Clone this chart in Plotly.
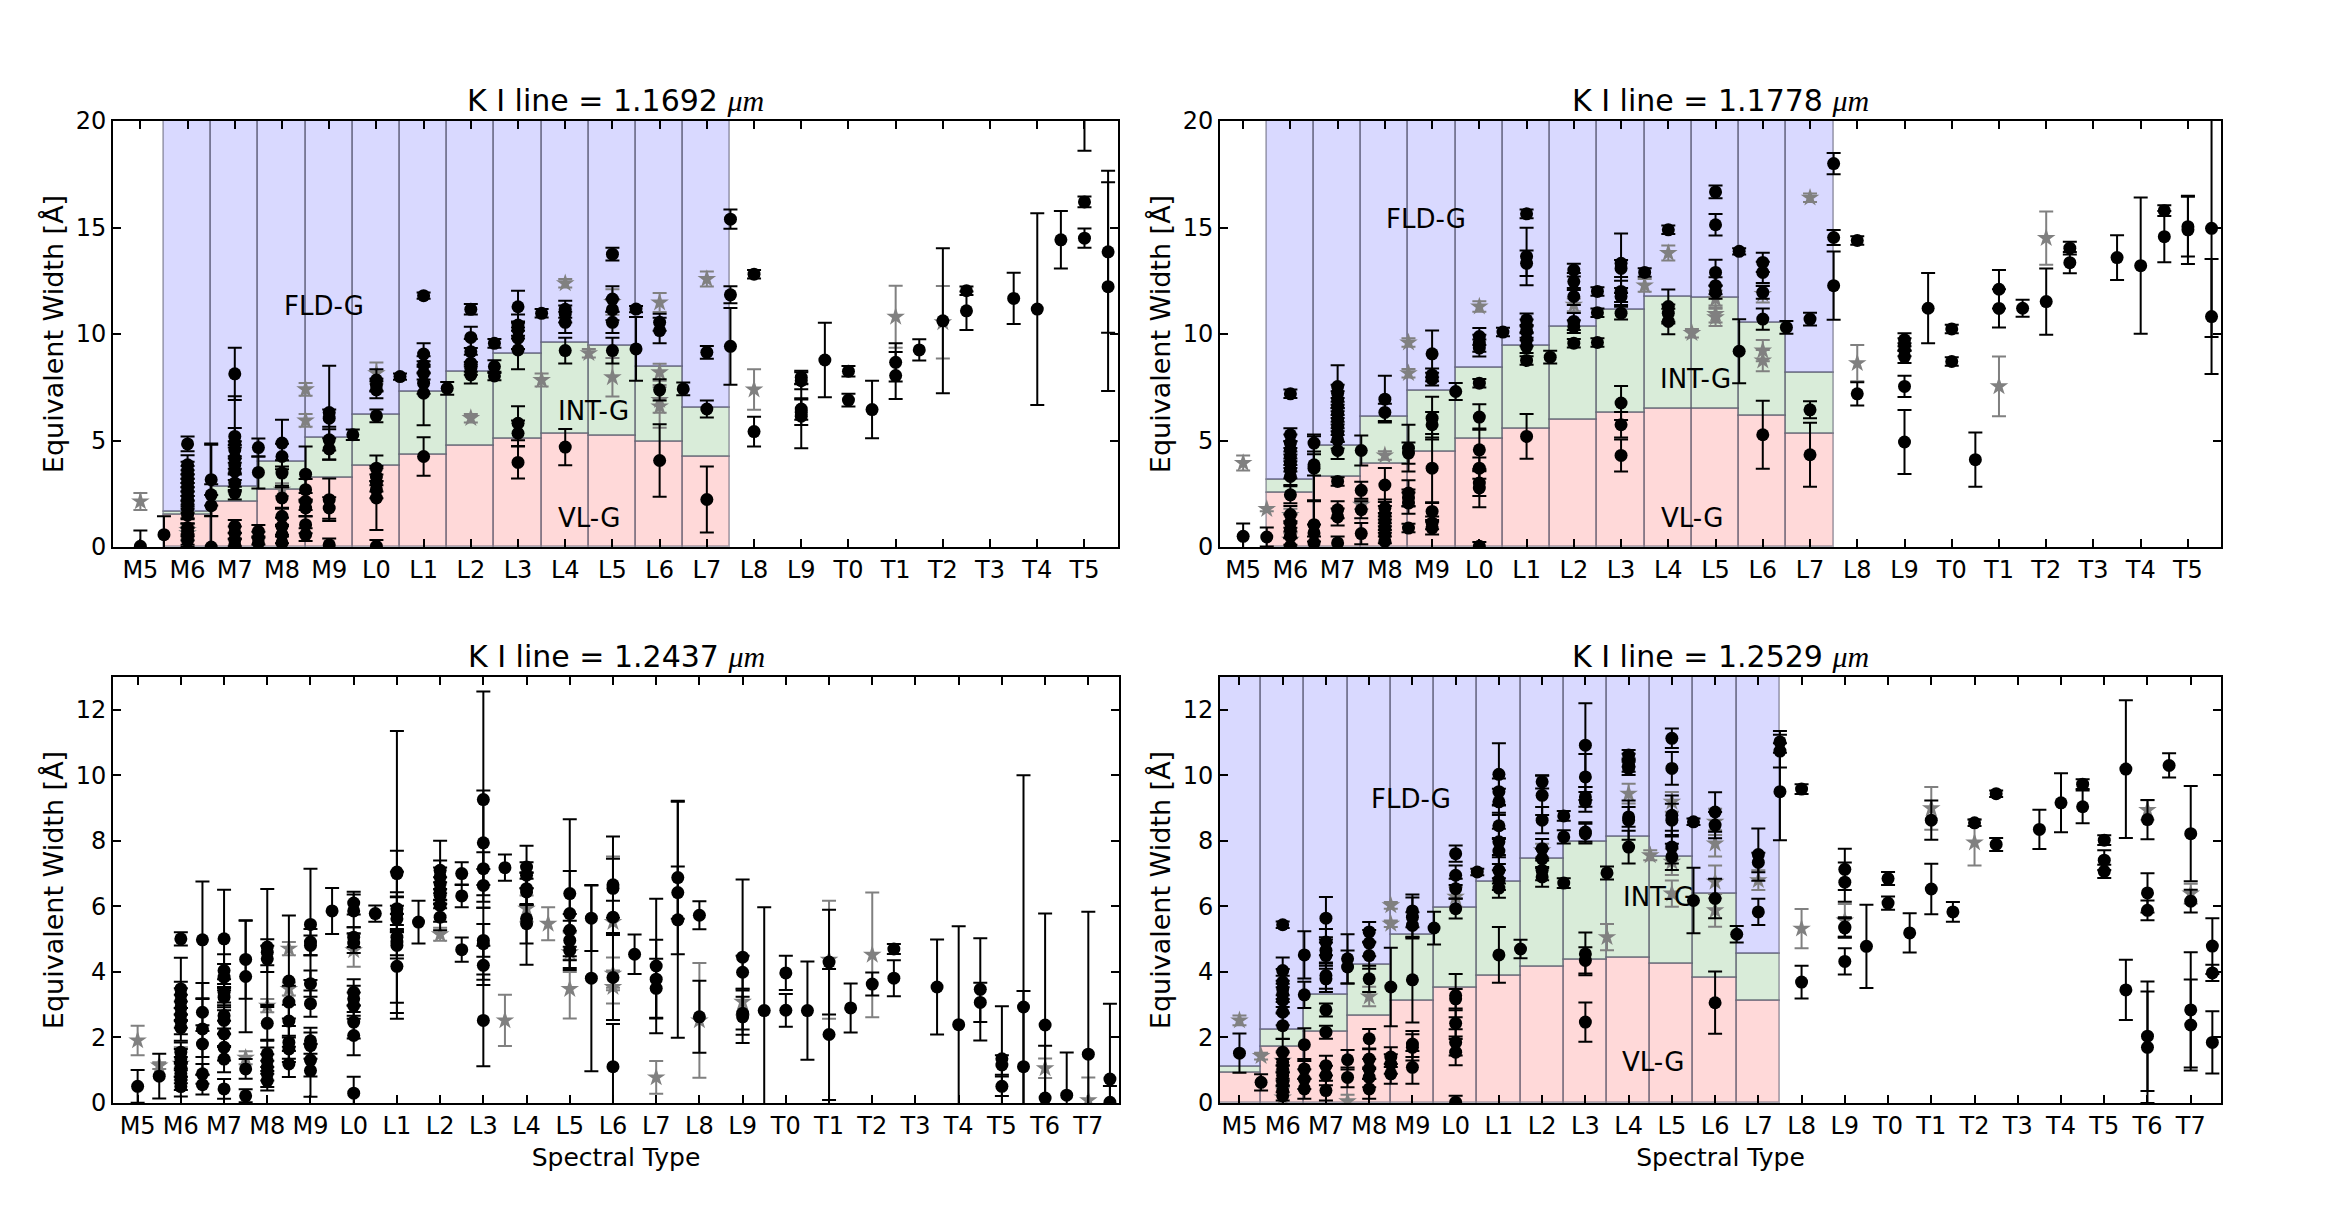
import plotly.graph_objects as go

# ---------------- tick labels ----------------
types_top = ['M5','M6','M7','M8','M9','L0','L1','L2','L3','L4','L5','L6','L7','L8','L9','T0','T1','T2','T3','T4','T5']
types_bot = types_top + ['T6','T7']

titles = ['K I line = 1.1692 ', 'K I line = 1.1778 ', 'K I line = 1.2437 ', 'K I line = 1.2529 ']

# ---------------- gravity-class boundaries (per spectral bin) ----------------
p1_bins = [1,2,3,4,5,6,7,8,9,10,11,12]
p1_vlg  = [1.48,2.10,2.66,3.23,3.80,4.30,4.73,5.08,5.30,5.23,4.92,4.22]
p1_intg = [1.64,2.80,3.98,5.10,6.20,7.27,8.23,9.06,9.60,9.45,8.44,6.52]

p2_bins = [1,2,3,4,5,6,7,8,9,10,11,12]
p2_vlg  = [2.53,3.28,3.90,4.48,5.08,5.55,5.94,6.30,6.48,6.48,6.14,5.31]
p2_intg = [3.13,4.72,6.10,7.31,8.39,9.42,10.34,11.13,11.72,11.67,10.50,8.17]

p4_bins = [0,1,2,3,4,5,6,7,8,9,10,11,12]
p4_vlg  = [0.92,1.71,2.18,2.66,3.10,3.51,3.87,4.16,4.36,4.41,4.25,3.81,3.10]
p4_intg = [1.11,2.23,3.29,4.22,5.12,5.96,6.75,7.45,7.98,8.11,7.52,6.37,4.54]

# ---------------- measurements: (spectral type index, EW, error) ----------------
p1_black = [
 (0,0.03,0.75),(0.5,0.58,0.86),
 (1,4.84,0.35),(1,3.86,0.45),(1,3.6,0.4),(1,3.4,0.4),(1,3.2,0.4),(1,3.0,0.4),(1,2.8,0.4),(1,2.6,0.4),(1,2.4,0.4),
 (1,2.2,0.4),(1,2.0,0.4),(1,1.75,0.4),(1,1.5,0.4),(1,0.9,0.4),(1,0.7,0.4),(1,0.5,0.4),(1,0.3,0.3),
 (1.5,3.16,1.7),(1.5,2.45,0.5),(1.5,1.94,0.5),(1.5,0.0,4.8),
 (2,8.13,1.23),(2,5.19,0.4),(2,4.88,2.2),(2,4.56,0.4),(2,4.17,0.5),(2,3.86,0.4),(2,3.55,0.4),(2,3.0,0.4),(2,2.53,0.3),
 (2,0.97,0.3),(2,0.66,0.3),(2,0.34,0.3),(2,0.1,0.3),
 (2.5,4.67,0.42),(2.5,3.5,0.75),(2.5,0.73,0.3),(2.5,0.42,0.3),(2.5,0.19,0.3),
 (3,4.88,1.1),(3,4.25,0.6),(3,3.47,0.6),(3,2.3,0.5),(3,1.44,0.4),(3,0.97,0.4),(3,0.58,0.4),(3,0.19,0.3),
 (3.5,3.42,1.3),(3.5,2.69,0.5),(3.5,2.14,0.4),(3.5,1.83,0.4),(3.5,1.05,0.4),(3.5,0.58,0.3),
 (4,6.31,2.2),(4,6.05,0.4),(4,5.03,0.5),(4,4.6,0.5),(4,2.22,1.0),(4,1.83,0.5),(4,0.1,0.3),
 (4.5,5.27,0.25),
 (5,7.84,0.5),(5,7.6,0.3),(5,7.38,0.4),(5,6.16,0.3),(5,3.7,0.6),(5,3.3,0.4),(5,3.0,0.4),(5,2.69,0.4),(5,2.3,1.5),(5,0.03,0.3),
 (5.5,8.0,0.15),
 (6,11.8,0.15),(6,9.06,0.5),(6,8.55,0.4),(6,8.16,0.3),(6,7.69,0.5),(6,7.22,1.5),(6,4.25,0.9),
 (6.5,7.45,0.3),
 (7,11.16,0.25),(7,9.84,0.5),(7,9.17,0.6),(7,8.63,0.4),(7,8.39,0.3),(7,8.08,0.4),
 (7.5,9.56,0.2),(7.5,8.47,0.3),(7.5,8.03,0.2),
 (8,11.28,0.75),(8,10.42,0.5),(8,10.19,0.4),(8,9.8,0.5),(8,9.25,0.9),(8,5.81,0.8),(8,5.34,0.6),(8,3.97,0.75),
 (8.5,10.97,0.2),
 (9,11.16,0.4),(9,10.94,0.4),(9,10.55,0.5),(9,9.22,0.6),(9,4.69,0.85),
 (10,13.75,0.3),(10,11.64,0.6),(10,11.14,0.5),(10,10.55,0.5),(10,9.22,0.6),
 (10.5,11.17,0.15),(10.5,9.3,1.5),
 (11,10.55,0.4),(11,10.16,0.6),(11,7.38,0.5),(11,4.06,1.7),
 (11.5,7.42,0.3),
 (12,9.14,0.3),(12,6.48,0.4),(12,2.23,1.55),
 (12.5,15.39,0.45),(12.5,11.84,0.4),(12.5,9.42,1.8),
 (13,12.81,0.2),(13,5.42,0.7),
 (14,7.97,0.3),(14,7.81,0.4),(14,6.48,0.5),(14,6.33,0.6),(14,6.14,1.5),
 (14.5,8.78,1.75),
 (15,8.25,0.25),(15,6.9,0.3),
 (15.5,6.45,1.35),
 (16,8.67,0.9),(16,8.05,1.1),
 (16.5,9.25,0.5),
 (17,10.62,3.4),
 (17.5,12.03,0.2),(17.5,11.09,0.9),
 (18.5,11.67,1.2),
 (19,11.17,4.5),
 (19.5,14.42,1.35),
 (20,16.2,0.25),(20,14.5,0.45),(20,21.0,2.4),
 (20.5,13.86,3.8),(20.5,12.22,4.9),
]
p1_grey = [
 (0,2.14,0.4),(1,0.8,0.3),(1,0.65,0.3),(3,2.69,0.3),(3.5,7.4,0.3),(3.5,5.94,0.3),(5,8.16,0.5),(7,6.05,0.2),
 (8.5,7.84,0.3),(9,12.38,0.2),(9.5,9.1,0.2),(10,7.97,0.9),(10,11.5,0.6),(11,11.48,0.45),(11,8.2,0.4),
 (11,6.9,0.6),(11,6.6,1.0),(12,12.58,0.35),(13,7.39,0.95),(16,10.81,1.45),(17,10.55,1.7),
]

p2_black = [
 (0,0.5,0.6),(0.5,0.47,0.45),
 (1,7.19,0.2),(1,5.27,0.3),(1,4.88,0.4),(1,4.56,0.4),(1,4.25,0.4),(1,3.94,0.4),(1,3.63,0.4),(1,3.31,0.4),(1,2.45,0.4),
 (1,1.52,0.4),(1,1.13,0.4),(1,0.81,0.4),(1,0.5,0.4),(1,0.03,0.4),
 (1.5,4.88,0.4),(1.5,3.86,0.5),(1.5,3.7,1.5),(1.5,1.05,1.1),(1.5,0.66,0.4),(1.5,0.19,0.3),
 (2,7.53,1.0),(2,7.22,0.4),(2,6.91,0.4),(2,6.6,0.4),(2,6.28,0.4),(2,5.97,0.4),(2,5.66,0.4),(2,5.35,0.4),(2,5.03,0.4),
 (2,4.53,0.4),(2,3.08,0.2),(2,1.75,0.4),(2,1.41,0.4),(2,0.19,0.3),
 (2.5,4.53,0.7),(2.5,2.66,0.4),(2.5,1.75,0.4),(2.5,0.63,0.5),
 (3,6.94,1.1),(3,6.32,0.4),(3,2.91,0.8),(3,1.83,0.4),(3,1.52,0.4),(3,1.2,0.4),(3,0.89,0.4),(3,0.58,0.4),(3,0.27,0.4),
 (3.5,4.64,1.1),(3.5,4.41,0.5),(3.5,2.53,0.6),(3.5,2.3,0.4),(3.5,2.06,0.5),(3.5,0.89,0.2),
 (4,9.07,1.1),(4,8.08,0.3),(4,7.88,0.3),(4,6.05,1.0),(4,5.74,0.6),(4,3.7,1.6),(4,1.67,0.4),(4,1.13,0.3),(4,0.89,0.3),
 (4.5,7.3,0.4),
 (5,9.88,0.4),(5,9.57,0.4),(5,9.34,0.4),(5,7.69,0.2),(5,6.1,0.6),(5,4.56,1.0),(5,3.7,0.5),(5,3.0,0.6),(5,2.77,0.9),(5,0.03,0.2),
 (5.5,10.09,0.2),
 (6,15.64,0.2),(6,13.64,1.35),(6,13.32,0.6),(6,10.66,0.3),(6,10.38,0.3),(6,10.12,0.3),(6,9.73,0.3),(6,9.41,0.3),(6,8.76,0.2),(6,5.19,1.05),
 (6.5,8.91,0.3),
 (7,13.0,0.3),(7,12.46,0.4),(7,11.76,0.4),(7,10.59,0.4),(7,10.35,0.3),(7,9.57,0.2),
 (7.5,12.0,0.2),(7.5,11.0,0.2),(7.5,9.6,0.2),
 (8,13.32,1.4),(8,13.08,0.4),(8,12.0,0.5),(8,11.76,0.4),(8,10.98,0.3),(8,6.76,0.8),(8,5.74,0.6),(8,4.3,0.75),
 (8.5,12.89,0.2),
 (9,14.89,0.2),(9,11.29,0.8),(9,10.98,0.4),(9,10.59,0.6),
 (10,16.67,0.3),(10,15.13,0.5),(10,12.89,0.6),(10,12.27,0.4),(10,11.95,0.3),
 (10.5,13.88,0.15),(10.5,9.19,1.5),
 (11,13.36,0.45),(11,12.89,0.5),(11,11.95,0.3),(11,10.7,0.5),(11,5.27,1.6),
 (11.5,10.31,0.3),
 (12,10.7,0.3),(12,6.44,0.4),(12,4.33,1.5),
 (12.5,18.0,0.5),(12.5,14.53,0.35),(12.5,12.27,1.6),
 (13,14.39,0.2),(13,7.19,0.55),
 (14,9.73,0.3),(14,9.5,0.3),(14,9.26,0.3),(14,8.94,0.3),(14,7.54,0.5),(14,4.93,1.5),
 (14.5,11.21,1.65),
 (15,10.24,0.2),(15,8.71,0.2),
 (15.5,4.1,1.27),
 (16,12.1,0.9),(16,11.2,0.9),
 (16.5,11.21,0.4),
 (17,11.52,1.55),
 (17.5,14.03,0.3),(17.5,13.35,0.5),
 (18.5,13.59,1.05),
 (19,13.21,3.2),
 (19.5,15.79,0.25),(19.5,14.57,1.2),
 (20,15.04,1.4),(20,14.89,1.6),
 (20.5,14.96,5.1),(20.5,10.82,2.7),
]
p2_grey = [
 (0,3.94,0.35),(0.5,1.78,0.1),(1,1.5,0.3),(1,0.34,0.3),(2.5,1.98,0.2),(3,4.3,0.2),(3.5,9.6,0.2),(3.5,8.16,0.2),
 (5,11.29,0.25),(7,11.37,0.3),(8.5,12.28,0.3),(9,13.8,0.35),(9.5,10.04,0.2),(10,11.64,0.4),(10,10.94,0.4),
 (10,10.78,0.4),(11,11.88,0.4),(11,9.22,0.5),(11,8.75,0.5),(12,16.4,0.2),(13,8.63,0.85),(16,7.54,1.4),(17,14.5,1.25),
]

p3_black = [
 (0,0.51,0.5),(0.5,0.82,0.68),
 (1,5.01,0.2),(1,3.48,0.95),(1,3.3,0.4),(1,3.1,0.4),(1,2.9,0.4),(1,2.7,0.4),(1,2.5,0.4),(1,2.3,0.4),
 (1,1.55,0.3),(1,1.35,0.3),(1,1.1,0.3),(1,0.9,0.3),(1,0.7,0.3),(1,0.5,0.3),
 (1.5,4.98,1.78),(1.5,2.77,0.4),(1.5,2.26,1.4),(1.5,1.8,0.4),(1.5,0.89,0.3),(1.5,0.56,0.3),
 (2,5.01,1.5),(2,4.04,0.5),(2,3.84,0.4),(2,3.38,0.4),(2,3.23,0.4),(2,2.67,0.4),(2,2.52,0.4),(2,2.11,0.4),(2,1.7,0.4),(2,1.34,0.4),(2,0.43,0.3),
 (2.5,4.38,1.2),(2.5,3.86,1.7),(2.5,1.04,0.3),(2.5,0.22,0.2),
 (3,4.76,1.77),(3,4.6,0.4),(3,4.4,0.4),(3,2.43,0.5),(3,1.5,0.4),(3,1.29,0.4),(3,1.09,0.4),(3,0.89,0.4),(3,0.68,0.3),
 (3.5,3.72,2.0),(3.5,3.08,0.5),(3.5,2.5,0.5),(3.5,1.85,0.5),(3.5,1.65,0.4),(3.5,1.19,0.4),
 (4,5.45,1.7),(4,4.91,0.4),(4,4.81,0.3),(4,3.64,0.4),(4,3.03,0.4),(4,1.9,0.4),(4,1.75,0.4),(4,1.31,0.5),(4,0.99,0.8),
 (4.5,5.86,0.7),
 (5,6.1,0.35),(5,5.86,0.5),(5,5.06,0.3),(5,4.88,0.3),(5,3.38,0.4),(5,3.18,0.4),(5,2.97,0.4),(5,2.47,0.5),(5,2.06,0.6),(5,0.3,0.5),
 (5.5,5.78,0.25),
 (6,7.05,4.3),(6,7.0,0.7),(6,5.93,0.5),(6,5.78,0.5),(6,5.62,0.4),(6,5.06,2.0),(6,4.91,0.4),(6,4.81,0.4),(6,4.17,1.6),
 (6.5,5.52,0.65),
 (7,7.1,0.9),(7,6.9,0.5),(7,6.69,0.5),(7,6.49,0.4),(7,6.34,0.4),(7,6.03,0.5),(7,5.67,0.4),
 (7.5,7.0,0.35),(7.5,6.32,0.35),(7.5,4.68,0.37),
 (8,9.26,3.3),(8,7.94,1.6),(8,7.15,0.5),(8,6.64,0.5),(8,4.96,0.5),(8,4.86,1.1),(8,4.2,0.6),(8,2.52,1.4),
 (8.5,7.18,0.4),
 (9,7.2,0.65),(9,6.95,0.4),(9,6.54,0.5),(9,6.44,0.4),(9,5.62,1.4),(9,5.47,0.6),
 (10,6.39,2.27),(10,5.78,1.3),(10,5.27,0.5),(10,4.96,0.6),(10,4.66,0.6),
 (10.5,5.64,1.0),(10.5,3.81,2.84),
 (11,6.66,1.47),(11,6.55,0.9),(11,5.67,0.5),(11,3.83,1.3),(11,1.11,1.3),
 (11.5,4.54,0.6),
 (12,4.18,2.05),(12,3.78,1.2),(12,3.5,0.9),
 (12.5,6.88,2.34),(12.5,6.42,0.8),(12.5,5.59,3.6),
 (13,5.73,0.43),(13,2.63,1.1),
 (14,4.45,2.37),(14,3.99,0.5),(14,2.74,0.5),(14,2.63,0.8),
 (14.5,2.82,3.15),
 (15,3.97,0.52),(15,2.83,0.5),
 (15.5,2.82,1.5),
 (16,4.3,1.6),(16,2.09,2.0),
 (16.5,2.9,0.75),
 (17,3.63,0.35),
 (17.5,4.7,0.15),(17.5,3.81,0.55),
 (18.5,3.54,1.45),
 (19,2.39,3.0),
 (19.5,3.47,1.56),(19.5,3.07,0.6),
 (20,1.35,1.6),(20,1.16,0.3),(20,0.51,0.3),
 (20.5,2.93,7.07),(20.5,1.11,2.31),
 (21,2.38,3.4),(21,0.15,1.6),
 (21.5,0.24,1.3),
 (22,1.49,4.35),
 (22.5,0.73,2.3),(22.5,0.02,0.5),
]
p3_grey = [
 (0,1.91,0.45),(0.5,1.14,0.1),(1,1.2,0.5),(2.5,1.38,0.2),(3,2.97,0.2),(3.5,4.71,0.2),(3.5,3.48,0.2),(5,4.66,0.5),
 (7,5.15,0.2),(8.5,2.52,0.78),(9,5.93,0.4),(9.5,5.47,0.5),(10,4.6,0.6),(10,3.48,0.9),(11,5.52,2.0),(11,3.94,0.5),
 (11,3.54,0.5),(12,0.78,0.5),(13,2.52,1.75),(14,3.09,0.4),(16,4.37,1.8),(17,4.52,1.9),(21,1.06,0.3),(22,0.08,0.7),
]

p4_black = [
 (0,1.52,0.6),(0.5,0.63,0.25),
 (1,5.44,0.1),(1,4.04,0.4),(1,3.69,0.4),(1,3.48,0.4),(1,3.33,0.4),(1,3.13,0.4),(1,2.77,0.4),(1,2.36,0.4),(1,1.55,0.4),
 (1,1.24,0.3),(1,1.04,0.3),(1,0.84,0.3),(1,0.63,0.3),(1,0.38,0.3),(1,0.22,0.3),
 (1.5,4.52,0.72),(1.5,3.3,0.4),(1.5,1.78,0.5),(1.5,1.04,0.3),(1.5,0.73,0.3),(1.5,0.43,0.3),
 (2,5.64,0.65),(2,4.91,0.4),(2,4.66,0.4),(2,4.5,0.4),(2,3.89,0.4),(2,3.79,0.4),(2,2.84,0.2),(2,2.16,0.2),(2,1.14,0.3),(2,0.84,0.3),(2,0.38,0.3),
 (2.5,4.4,0.75),(2.5,4.15,0.5),(2.5,1.32,0.3),(2.5,0.78,0.3),
 (3,5.22,0.3),(3,4.88,0.4),(3,4.5,0.4),(3,3.79,0.4),(3,1.96,0.3),(3,1.34,0.3),(3,1.04,0.3),(3,0.78,0.3),(3,0.43,0.3),
 (3.5,3.54,1.2),(3.5,1.4,0.3),(3.5,1.19,0.3),(3.5,0.89,0.3),
 (4,5.86,0.5),(4,5.67,0.6),(4,5.42,0.4),(4,3.76,1.3),(4,1.8,0.4),(4,1.7,0.4),(4,1.09,0.5),
 (4.5,5.34,0.5),
 (5,7.61,0.25),(5,6.95,0.3),(5,6.54,0.3),(5,5.93,0.3),(5,3.28,0.66),(5,3.18,0.3),(5,2.43,0.4),(5,1.85,0.4),(5,1.55,0.4),(5,0.02,0.2),
 (5.5,7.05,0.1),
 (6,10.03,0.95),(6,9.5,0.4),(6,9.19,0.4),(6,8.46,0.4),(6,7.97,0.4),(6,7.69,0.4),(6,7.1,0.4),(6,6.8,0.3),(6,6.56,0.3),(6,4.52,0.85),
 (6.5,4.7,0.28),
 (7,9.8,0.2),(7,9.39,0.6),(7,8.63,0.4),(7,7.76,0.3),(7,7.46,0.3),(7,7.1,0.3),(7,6.9,0.3),
 (7.5,8.76,0.15),(7.5,8.12,0.2),(7.5,6.71,0.15),
 (8,10.92,1.28),(8,9.95,0.7),(8,9.34,0.3),(8,9.19,0.3),(8,8.27,0.3),(8,8.22,0.3),(8,4.55,0.65),(8,4.35,0.4),(8,2.47,0.6),
 (8.5,7.02,0.2),
 (9,10.62,0.15),(9,10.46,0.2),(9,10.31,0.2),(9,10.21,0.2),(9,8.73,0.3),(9,8.63,0.6),(9,7.81,0.5),
 (10,11.13,0.3),(10,10.21,0.5),(10,8.78,0.6),(10,8.63,0.5),(10,7.81,0.5),(10,7.51,0.4),
 (10.5,8.58,0.1),(10.5,6.18,1.0),
 (11,8.88,0.6),(11,8.48,0.4),(11,6.24,0.6),(11,3.06,0.95),
 (11.5,5.15,0.25),
 (12,7.58,0.8),(12,7.34,0.3),(12,5.83,0.4),
 (12.5,11.02,0.33),(12.5,10.74,0.5),(12.5,9.5,1.48),
 (13,9.58,0.15),(13,3.69,0.5),
 (14,7.13,0.63),(14,6.74,0.6),(14,5.37,0.3),(14,5.34,0.3),(14,4.32,0.4),
 (14.5,4.78,1.27),
 (15,6.85,0.2),(15,6.1,0.2),
 (15.5,5.19,0.6),
 (16,8.63,0.6),(16,6.53,0.77),
 (16.5,5.83,0.3),
 (17,8.55,0.1),
 (17.5,9.44,0.1),(17.5,7.89,0.2),
 (18.5,8.35,0.6),
 (19,9.16,0.9),
 (19.5,9.73,0.15),(19.5,9.04,0.5),
 (20,8.02,0.15),(20,7.41,0.3),(20,7.07,0.2),
 (20.5,10.19,2.1),(20.5,3.45,0.92),
 (21,8.65,0.6),(21,6.41,0.6),(21,5.88,0.3),(21,2.04,1.67),(21,1.7,1.7),
 (21.5,10.3,0.37),
 (22,8.22,1.45),(22,6.16,0.35),(22,2.84,1.76),(22,2.38,1.39),
 (22.5,4.79,0.85),(22.5,3.97,0.25),(22.5,1.85,0.95),
]
p4_grey = [
 (0,2.52,0.15),(0.5,1.43,0.1),(1,1.29,0.3),(1,0.17,0.3),(2.5,0.05,0.2),(3,3.25,0.3),(3.5,6.03,0.1),(3.5,5.47,0.1),
 (5,6.29,0.3),(7,7.71,0.2),(8.5,5.06,0.4),(9,9.44,0.3),(9.5,7.56,0.15),(10,9.19,0.3),(10,7.36,0.4),(10,6.39,0.4),
 (11,8.58,0.4),(11,7.92,0.4),(11,6.75,0.5),(11,5.88,0.5),(12,6.8,0.3),(13,5.32,0.6),(14,5.57,0.5),(16,8.99,0.65),
 (17,7.95,0.7),(21,8.94,0.3),(22,6.39,0.3),
]

# ---------------- figure ----------------
W, H = 2338, 1228
FONT = 'DejaVu Sans'
fig = go.Figure()

panels = [
    dict(ax='x',  ay='y',  black=p1_black, grey=p1_grey, ymax=20,
         bands=(p1_bins, p1_vlg, p1_intg),
         labels=[('FLD-G',3.9,11.33),('INT-G',9.6,6.4),('VL-G',9.5,1.36)]),
    dict(ax='x2', ay='y2', black=p2_black, grey=p2_grey, ymax=20,
         bands=(p2_bins, p2_vlg, p2_intg),
         labels=[('FLD-G',3.88,15.4),('INT-G',9.58,7.9),('VL-G',9.5,1.36)]),
    dict(ax='x3', ay='y3', black=p3_black, grey=p3_grey, ymax=13, bands=None, labels=[]),
    dict(ax='x4', ay='y4', black=p4_black, grey=p4_grey, ymax=13,
         bands=(p4_bins, p4_vlg, p4_intg),
         labels=[('FLD-G',3.97,9.29),('INT-G',9.68,6.29),('VL-G',9.57,1.24)]),
]

edge = dict(color='rgba(90,90,110,0.5)', width=1.8)
for p in panels:
    if p['bands']:
        bins, vlg, intg = p['bands']
        top = p['ymax']
        fig.add_trace(go.Bar(x=bins, y=vlg, base=[0]*len(bins), width=1,
                             marker=dict(color='rgba(255,0,0,0.15)', line=edge),
                             xaxis=p['ax'], yaxis=p['ay'], hoverinfo='skip'))
        fig.add_trace(go.Bar(x=bins, y=[b - a for a, b in zip(vlg, intg)], base=vlg, width=1,
                             marker=dict(color='rgba(0,128,0,0.15)', line=edge),
                             xaxis=p['ax'], yaxis=p['ay'], hoverinfo='skip'))
        fig.add_trace(go.Bar(x=bins, y=[top - b for b in intg], base=intg, width=1,
                             marker=dict(color='rgba(0,0,255,0.15)', line=edge),
                             xaxis=p['ax'], yaxis=p['ay'], hoverinfo='skip'))
    gx = [t[0] for t in p['grey']]; gy = [t[1] for t in p['grey']]; ge = [t[2] for t in p['grey']]
    fig.add_trace(go.Scatter(x=gx, y=gy, mode='markers',
                             marker=dict(symbol='star', size=14, color='#808080', line=dict(width=0)),
                             error_y=dict(type='data', array=ge, color='#808080', thickness=2, width=7),
                             xaxis=p['ax'], yaxis=p['ay']))
    bx = [t[0] for t in p['black']]; by = [t[1] for t in p['black']]; be = [t[2] for t in p['black']]
    fig.add_trace(go.Scatter(x=bx, y=by, mode='markers',
                             marker=dict(symbol='circle', size=13, color='black', line=dict(width=0)),
                             error_y=dict(type='data', array=be, color='black', thickness=2, width=7),
                             xaxis=p['ax'], yaxis=p['ay']))
    for (txt, lx, ly) in p['labels']:
        fig.add_annotation(x=lx, y=ly, xref=p['ax'], yref=p['ay'], text=txt, showarrow=False,
                           xanchor='center', yanchor='middle',
                           font=dict(family=FONT, size=26, color='black'))

# plot-area pixel boxes: (left, right, top, bottom)
boxes = [(113, 1118, 121, 547), (1220, 2221, 121, 547), (113, 1119, 677, 1103), (1220, 2221, 677, 1103)]
xranges = [[-0.58, 20.71], [-0.49, 20.7], [-0.57, 22.71], [-0.45, 22.7]]
ticklists = [types_top, types_top, types_bot, types_bot]
ytv = [[0, 5, 10, 15, 20], [0, 5, 10, 15, 20], [0, 2, 4, 6, 8, 10, 12], [0, 2, 4, 6, 8, 10, 12]]

common = dict(showline=True, linecolor='black', linewidth=2, mirror='allticks', ticks='inside',
              ticklen=8, tickwidth=1.5, tickcolor='black', showgrid=False, zeroline=False,
              automargin=False, tickfont=dict(family=FONT, size=24, color='black'))

layout = dict(width=W, height=H, autosize=False, margin=dict(l=0, r=0, t=0, b=0, pad=0),
              paper_bgcolor='white', plot_bgcolor='white', showlegend=False, barmode='overlay', bargap=0)
for i, ((l, r, t, b), xr, tl, yt, p) in enumerate(zip(boxes, xranges, ticklists, ytv, panels)):
    sx = '' if i == 0 else str(i + 1)
    xa = dict(common, domain=[l / W, r / W], range=xr, anchor='y' + sx,
              tickvals=list(range(len(tl))), ticktext=tl)
    if i >= 2:
        xa['title'] = dict(text='Spectral Type', font=dict(family=FONT, size=25, color='black'), standoff=10)
    ya = dict(common, domain=[1 - b / H, 1 - t / H], range=[0, p['ymax']], anchor='x' + sx,
              tickvals=yt, title=dict(text='Equivalent Width [Å]',
                                      font=dict(family=FONT, size=27, color='black'), standoff=4))
    layout['xaxis' + sx] = xa
    layout['yaxis' + sx] = ya
    fig.add_annotation(xref='paper', yref='paper', x=(l + r) / 2 / W, y=1 - (t - 21) / H,
                       xanchor='center', yanchor='middle', showarrow=False,
                       text=titles[i] + "<span style=\"font-family:'Liberation Serif'\"><i>μm</i></span>",
                       font=dict(family=FONT, size=30, color='black'))

fig.update_layout(**layout)
fig.write_html('out.html')
